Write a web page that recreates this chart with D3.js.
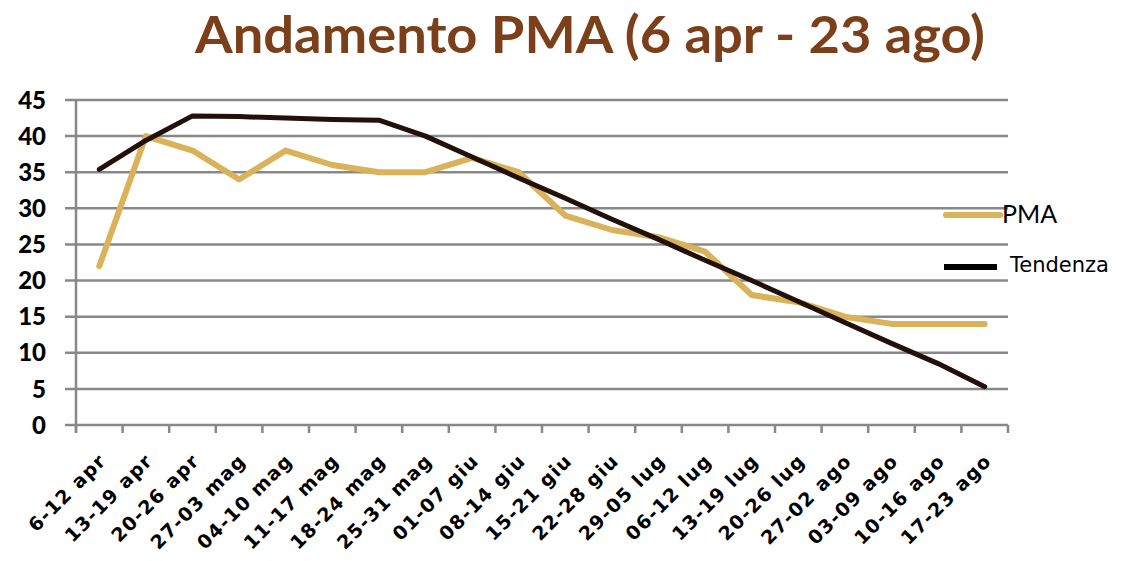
<!DOCTYPE html>
<html>
<head>
<meta charset="utf-8">
<script src="https://cdn.jsdelivr.net/npm/d3@7"></script>
<style>
  html, body { margin: 0; padding: 0; background: #fff; }
  svg { display: block; }
</style>
</head>
<body>
<div id="chart"></div>
<script>
const categories = [
  "6-12 apr", "13-19 apr", "20-26 apr", "27-03 mag", "04-10 mag",
  "11-17 mag", "18-24 mag", "25-31 mag", "01-07 giu", "08-14 giu",
  "15-21 giu", "22-28 giu", "29-05 lug", "06-12 lug", "13-19 lug",
  "20-26 lug", "27-02 ago", "03-09 ago", "10-16 ago", "17-23 ago"
];
const pma = [22, 40, 38, 34, 38, 36, 35, 35, 37, 35, 29, 27, 26, 24, 18, 17, 15, 14, 14, 14];
const tendenza = [35.4, 39.4, 42.8, 42.7, 42.5, 42.3, 42.2, 40.0, 37.1, 34.2, 31.4, 28.5, 25.7, 22.8, 20.0, 17.1, 14.2, 11.3, 8.5, 5.3];
const yTicks = [0, 5, 10, 15, 20, 25, 30, 35, 40, 45];

const W = 1124, H = 561;
const plotLeft = 76, plotRight = 1008, plotTop = 100, plotBottom = 425;
const gridStart = 65;

const svg = d3.select("#chart").append("svg")
  .attr("width", W)
  .attr("height", H);

const x = d3.scaleBand().domain(categories).range([plotLeft, plotRight]);
const y = d3.scaleLinear().domain([0, 45]).range([plotBottom, plotTop]);

// title
svg.append("text")
  .attr("x", 590)
  .attr("y", 53)
  .attr("text-anchor", "middle")
  .attr("font-family", "Lato, 'DejaVu Sans', sans-serif")
  .attr("font-weight", "bold")
  .attr("font-size", 52)
  .attr("fill", "#7b3f1a")
  .attr("textLength", 790)
  .attr("lengthAdjust", "spacingAndGlyphs")
  .text("Andamento PMA (6 apr - 23 ago)");

// horizontal grid lines
svg.append("g")
  .selectAll("line")
  .data(yTicks)
  .join("line")
  .attr("x1", gridStart)
  .attr("x2", plotRight)
  .attr("y1", d => y(d))
  .attr("y2", d => y(d))
  .attr("stroke", "#888")
  .attr("stroke-width", 2.5);

// y axis line
svg.append("line")
  .attr("x1", plotLeft).attr("x2", plotLeft)
  .attr("y1", y(45)).attr("y2", plotBottom + 8)
  .attr("stroke", "#888")
  .attr("stroke-width", 2.5);

// x ticks at band edges
const edges = categories.map(c => x(c)).concat([plotRight]);
svg.append("g")
  .selectAll("line")
  .data(edges)
  .join("line")
  .attr("x1", d => d).attr("x2", d => d)
  .attr("y1", plotBottom).attr("y2", plotBottom + 8)
  .attr("stroke", "#888")
  .attr("stroke-width", 2.5);

// y tick labels
svg.append("g")
  .selectAll("text")
  .data(yTicks)
  .join("text")
  .attr("x", 46)
  .attr("y", d => y(d))
  .attr("dy", "0.36em")
  .attr("text-anchor", "end")
  .attr("font-family", "Lato, 'DejaVu Sans', sans-serif")
  .attr("font-weight", "900")
  .attr("font-size", 24)
  .attr("fill", "#000")
  .text(d => d);

// x tick labels, rotated
svg.append("g")
  .selectAll("text")
  .data(categories)
  .join("text")
  .attr("transform", d => `translate(${x(d) + x.bandwidth() / 2 + 8},${plotBottom + 37}) rotate(-45)`)
  .attr("text-anchor", "end")
  .attr("font-family", "'DejaVu Sans', sans-serif")
  .attr("font-weight", "bold")
  .attr("font-size", 19)
  .attr("letter-spacing", 1.3)
  .attr("fill", "#000")
  .text(d => d);

const cx = d => x(d) + x.bandwidth() / 2;

const line = d3.line()
  .x(d => cx(d.c))
  .y(d => y(d.v));

svg.append("path")
  .datum(categories.map((c, i) => ({ c, v: pma[i] })))
  .attr("d", line)
  .attr("fill", "none")
  .attr("stroke", "#d9b25a")
  .attr("stroke-width", 6)
  .attr("stroke-linecap", "round")
  .attr("stroke-linejoin", "round");

svg.append("path")
  .datum(categories.map((c, i) => ({ c, v: tendenza[i] })))
  .attr("d", line)
  .attr("fill", "none")
  .attr("stroke", "#22100a")
  .attr("stroke-width", 5)
  .attr("stroke-linecap", "round")
  .attr("stroke-linejoin", "round");

// legend
const legend = svg.append("g");
legend.append("line")
  .attr("x1", 946).attr("x2", 1000)
  .attr("y1", 215).attr("y2", 215)
  .attr("stroke", "#d9b25a")
  .attr("stroke-width", 6)
  .attr("stroke-linecap", "round");
legend.append("text")
  .attr("x", 1002)
  .attr("y", 223)
  .attr("font-family", "Lato, 'DejaVu Sans', sans-serif")
  .attr("font-size", 25)
  .attr("fill", "#000")
  .text("PMA");
legend.append("line")
  .attr("x1", 944).attr("x2", 997)
  .attr("y1", 267).attr("y2", 267)
  .attr("stroke", "#000")
  .attr("stroke-width", 6);
legend.append("text")
  .attr("x", 1010)
  .attr("y", 272)
  .attr("font-family", "'DejaVu Sans', sans-serif")
  .attr("font-size", 21)
  .attr("fill", "#000")
  .text("Tendenza");
</script>
</body>
</html>
